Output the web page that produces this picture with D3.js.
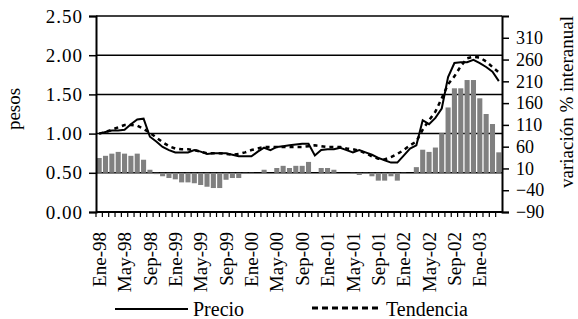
<!DOCTYPE html>
<html>
<head>
<meta charset="utf-8">
<script src="https://cdn.jsdelivr.net/npm/d3@7"></script>
<style>
  html, body { margin: 0; padding: 0; background: #fff; }
</style>
</head>
<body>
<div id="chart"></div>
<script>
// month categories Ene-98 .. Abr-03
const monthNames = ['Ene', 'Feb', 'Mar', 'Abr', 'May', 'Jun', 'Jul', 'Ago', 'Sep', 'Oct', 'Nov', 'Dic'];
const years = ['98', '99', '00', '01', '02', '03'];
const months = [];
years.forEach(y => monthNames.forEach(m => months.push(`${m}-${y}`)));
months.length = 64;

// precio (pesos), left axis
const precio = [1.00, 1.02, 1.04, 1.04, 1.05, 1.12, 1.18, 1.19, 0.96, 0.90,
  0.83, 0.79, 0.76, 0.76, 0.76, 0.79, 0.77, 0.74, 0.75, 0.75,
  0.75, 0.73, 0.71, 0.71, 0.71, 0.77, 0.82, 0.79, 0.83, 0.84,
  0.85, 0.86, 0.87, 0.87, 0.72, 0.79, 0.80, 0.80, 0.82, 0.79,
  0.76, 0.79, 0.76, 0.73, 0.69, 0.66, 0.63, 0.63, 0.72, 0.81,
  0.85, 1.17, 1.12, 1.20, 1.32, 1.72, 1.90, 1.91, 1.91, 1.94,
  1.90, 1.85, 1.79, 1.67];

// tendencia (pesos), left axis
const tendencia = [1.00, 1.02, 1.05, 1.08, 1.11, 1.11, 1.10, 1.06, 1.01, 0.95,
  0.89, 0.84, 0.81, 0.80, 0.80, 0.79, 0.77, 0.75, 0.75, 0.75,
  0.74, 0.73, 0.74, 0.76, 0.79, 0.81, 0.83, 0.83, 0.83, 0.83,
  0.83, 0.83, 0.83, 0.84, 0.85, 0.84, 0.83, 0.83, 0.83, 0.81,
  0.80, 0.78, 0.75, 0.71, 0.68, 0.67, 0.70, 0.74, 0.79, 0.85,
  0.90, 1.05, 1.17, 1.28, 1.45, 1.63, 1.73, 1.86, 1.96, 1.98,
  1.97, 1.92, 1.85, 1.78];

// variación % interanual (bars), right axis
const variacion = [34, 39, 44, 48, 44, 39, 44, 30, 7, -3,
  -8, -12, -15, -22, -22, -24, -28, -32, -35, -35,
  -16, -12, -12, -2, -2, 0, 7, 0, 11, 16,
  11, 16, 16, 25, 0, 11, 11, 7, 0, 0,
  -2, -5, -2, -8, -18, -18, -8, -18, -2, 0,
  13, 53, 48, 58, 91, 150, 194, 194, 213, 213,
  171, 135, 112, 47];

const leftTicks = [0, 0.5, 1, 1.5, 2, 2.5];
const rightTicks = [-90, -40, 10, 60, 110, 160, 210, 260, 310];
const labelMonths = months.filter((d, i) => i % 4 === 0);

(function () {
  const width = 578, height = 319;
  const margin = { top: 16, right: 76, bottom: 107, left: 96 };
  const innerW = width - margin.left - margin.right;
  const innerH = height - margin.top - margin.bottom;
  const serif = "'Liberation Serif', 'Times New Roman', Times, serif";

  const svg = d3.select('#chart').append('svg')
    .attr('width', width).attr('height', height)
    .style('display', 'block');
  const g = svg.append('g').attr('transform', `translate(${margin.left},${margin.top})`);

  // scales
  const x = d3.scaleBand().domain(months).range([0, innerW]).paddingInner(0.2).paddingOuter(0.1);
  const cx = d => x(d) + x.bandwidth() / 2;
  const y = d3.scaleLinear().domain([0, 2.5]).range([innerH, 0]);
  const y2 = d3.scaleLinear().domain([-90, 360]).range([innerH, 0]);

  // gridlines
  g.append('g').selectAll('line').data(leftTicks.slice(1)).join('line')
    .attr('x1', 0).attr('x2', innerW)
    .attr('y1', d => y(d)).attr('y2', d => y(d))
    .attr('stroke', '#000').attr('stroke-width', 1.5);

  // bars
  g.append('g').selectAll('rect').data(variacion).join('rect')
    .attr('x', (d, i) => x(months[i]))
    .attr('width', x.bandwidth())
    .attr('y', d => y2(Math.max(0, d)))
    .attr('height', d => Math.abs(y2(d) - y2(0)))
    .attr('fill', '#808080');

  // lines
  const line = d3.line().x((d, i) => cx(months[i])).y(d => y(d));
  g.append('path').datum(tendencia)
    .attr('d', line).attr('fill', 'none')
    .attr('stroke', '#000').attr('stroke-width', 2.5).attr('stroke-dasharray', '4,4');
  g.append('path').datum(precio)
    .attr('d', line).attr('fill', 'none')
    .attr('stroke', '#000').attr('stroke-width', 2);

  // left axis
  const gy = g.append('g')
    .call(d3.axisLeft(y).tickValues(leftTicks).tickFormat(d3.format('.2f')).tickSize(7).tickPadding(6));
  gy.select('.domain').attr('stroke-width', 2);
  gy.selectAll('.tick line').attr('stroke-width', 1.5);
  gy.selectAll('text').style('font-family', serif).attr('font-size', 19).attr('fill', '#000').attr('letter-spacing', 1);

  // right axis
  const gy2 = g.append('g').attr('transform', `translate(${innerW},0)`)
    .call(d3.axisRight(y2).tickValues(rightTicks).tickSize(7).tickPadding(7));
  gy2.select('.domain').attr('stroke-width', 2);
  gy2.selectAll('.tick line').attr('stroke-width', 1.5);
  gy2.selectAll('text').style('font-family', serif).attr('font-size', 18).attr('fill', '#000');

  // bottom axis: a tick at every month boundary, labels every 4 months
  const gx = g.append('g').attr('transform', `translate(0,${innerH})`);
  gx.append('line').attr('x1', 0).attr('x2', innerW).attr('stroke', '#000').attr('stroke-width', 2);
  gx.selectAll('line.tk').data(months).join('line').attr('class', 'tk')
    .attr('x1', d => x(d) - x.step() * 0.1).attr('x2', d => x(d) - x.step() * 0.1)
    .attr('y1', 0).attr('y2', 5).attr('stroke', '#000').attr('stroke-width', 1.2);
  gx.selectAll('text').data(labelMonths).join('text')
    .attr('transform', d => `translate(${cx(d)},0) rotate(-90)`)
    .attr('x', -20).attr('dy', '0.35em')
    .attr('text-anchor', 'end')
    .style('font-family', serif)
    .attr('font-size', 19)
    .text(d => d);

  // axis titles
  svg.append('text')
    .attr('transform', `translate(20,109) rotate(-90)`)
    .attr('text-anchor', 'middle').style('font-family', serif).attr('font-size', 19).text('pesos');
  svg.append('text')
    .attr('transform', `translate(573,102) rotate(-90)`)
    .attr('text-anchor', 'middle').style('font-family', serif).attr('font-size', 19).text('variación % interanual');

  // legend
  const lg = svg.append('g');
  lg.append('line').attr('x1', 115).attr('x2', 188).attr('y1', 309).attr('y2', 309)
    .attr('stroke', '#000').attr('stroke-width', 2);
  lg.append('text').attr('x', 193).attr('y', 309).attr('dy', '0.35em')
    .style('font-family', serif).attr('font-size', 20).text('Precio');
  lg.append('line').attr('x1', 312).attr('x2', 382).attr('y1', 308).attr('y2', 308)
    .attr('stroke', '#000').attr('stroke-width', 3).attr('stroke-dasharray', '6,4');
  lg.append('text').attr('x', 386).attr('y', 309).attr('dy', '0.35em')
    .style('font-family', serif).attr('font-size', 20).text('Tendencia');
})();
</script>
</body>
</html>
